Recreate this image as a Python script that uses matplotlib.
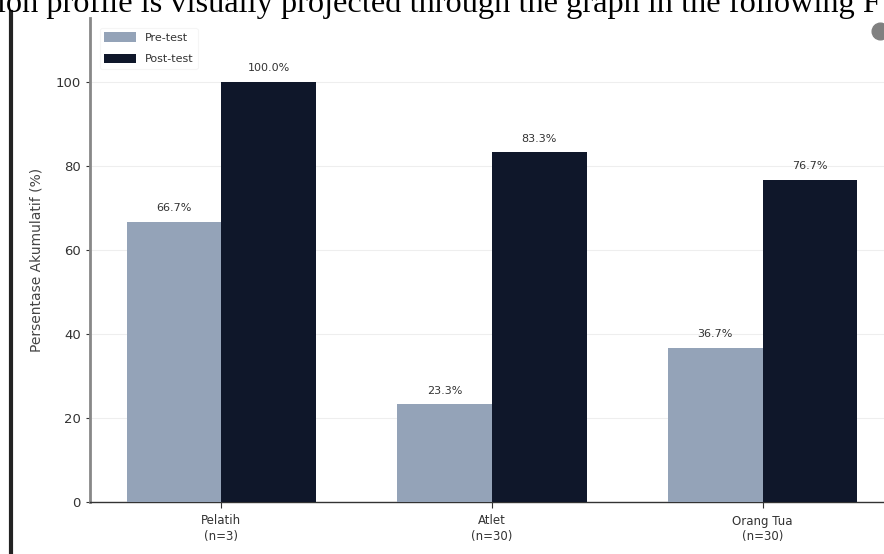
import matplotlib.pyplot as plt
import numpy as np

# data
categories = ["Pelatih\n(n=3)", "Atlet\n(n=30)", "Orang Tua\n(n=30)"]
pre_test = [66.7, 23.3, 36.7]
post_test = [100.0, 83.3, 76.7]
series_names = ["Pre-test", "Post-test"]

W, H = 884, 554
fig = plt.figure(figsize=(W / 100, H / 100), dpi=100)

# axes placed in pixel terms (chart is cropped on the right side)
ax_left, ax_right = 90, 894
ax_bottom, ax_top = 502, 18
ax = fig.add_axes([ax_left / W, 1 - ax_bottom / H,
                   (ax_right - ax_left) / W, (ax_bottom - ax_top) / H])

font = 'DejaVu Sans'
txt = "#333333"

x = np.arange(len(categories))
width = 0.35
b1 = ax.bar(x - width / 2, pre_test, width, color="#94a3b8", label=series_names[0], zorder=3)
b2 = ax.bar(x + width / 2, post_test, width, color="#0f172a", label=series_names[1], zorder=3)

for bars, vals in ((b1, pre_test), (b2, post_test)):
    for rect, v in zip(bars, vals):
        ax.text(rect.get_x() + rect.get_width() / 2, v + 2, f"{v:.1f}%",
                ha="center", va="bottom", fontsize=8, color=txt, family=font)

ax.set_ylim(0, 115.2)
ax.set_xlim(-0.485, 2.485)
ax.set_yticks([0, 20, 40, 60, 80, 100])
ax.set_xticks(x)
ax.set_xticklabels(categories, fontsize=8.5, color=txt, family=font, linespacing=1.25)
for lab in ax.get_yticklabels():
    lab.set_family(font)
ax.tick_params(axis="y", labelsize=9.5, colors=txt, length=3)
ax.tick_params(axis="x", length=4, colors=txt, pad=5)
ax.set_ylabel("Persentase Akumulatif (%)", fontsize=10, color="#444444", family=font, labelpad=9)
ax.yaxis.grid(True, color="#eeeeee", linewidth=0.8, zorder=0)

for s in ("top", "right"):
    ax.spines[s].set_visible(False)
ax.spines["left"].set_color("#888888")
ax.spines["left"].set_linewidth(2)
ax.spines["bottom"].set_color("#333333")
ax.spines["bottom"].set_linewidth(1)

leg = ax.legend(loc="upper left", frameon=True, handlelength=2.8,
                handleheight=0.9, borderaxespad=0.9, labelspacing=1.0,
                prop={"family": font, "size": 8})
leg.get_frame().set_edgecolor("#f3f3f3")
leg.get_frame().set_linewidth(0.8)
for t in leg.get_texts():
    t.set_color(txt)

# document fragment around the chart
fig.text(-0.003, 1.0 - 12 / H, "ion profile is visually projected through the graph in the following F",
         fontsize=23.3, family="Liberation Serif", color="black", ha="left", va="baseline")
fig.add_artist(plt.Line2D([11 / W, 11 / W], [0, 1 - 12 / H], color="#222222", linewidth=3,
                          transform=fig.transFigure))
fig.add_artist(plt.Line2D([880 / W], [1 - 31 / H], marker="o", markersize=12,
                          color="#808080", transform=fig.transFigure))

fig.savefig("out.png", dpi=100)
